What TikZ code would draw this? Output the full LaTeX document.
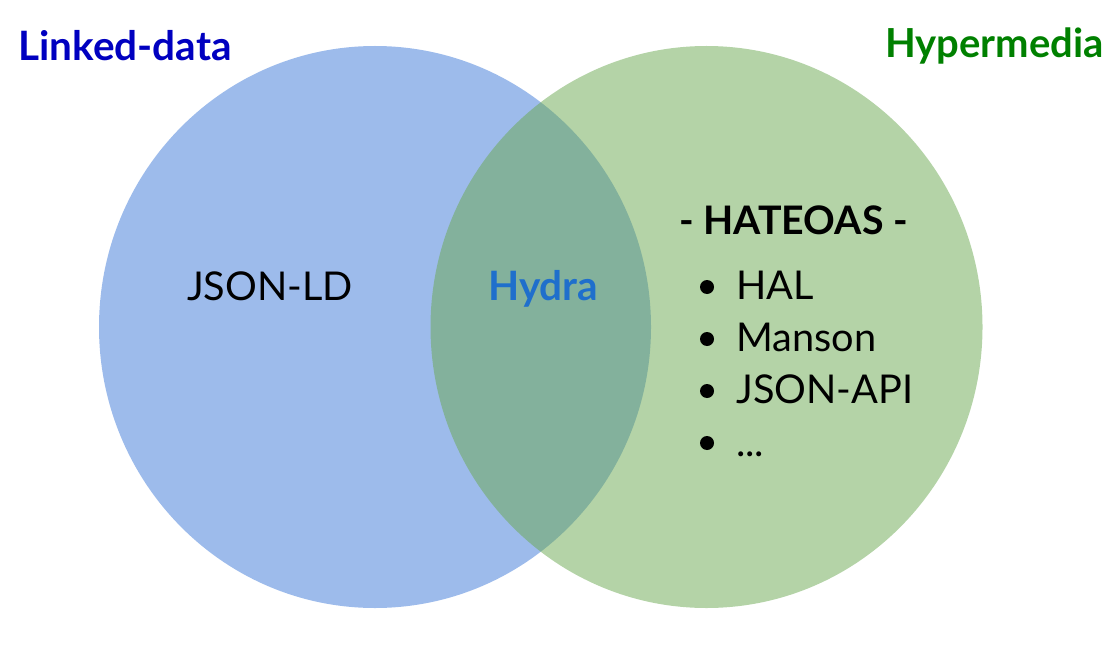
\documentclass[tikz,border=0pt]{standalone}
\usepackage{fontspec}
\setmainfont{Lato}
\definecolor{ldblue}{RGB}{0,0,192}
\definecolor{hmgreen}{RGB}{0,128,0}
\definecolor{hydrablue}{RGB}{31,111,204}
\definecolor{cblue}{RGB}{60,120,216}
\definecolor{cgreen}{RGB}{106,168,79}
\begin{document}
\begin{tikzpicture}[x=1pt,y=-1pt,
  title/.style={font=\fontsize{40.5}{46}\selectfont\bfseries, anchor=base west, inner sep=0pt},
  body/.style={font=\fontsize{39.7}{46}\selectfont, anchor=base west, inner sep=0pt},
  dot/.style={circle, fill=black, inner sep=0pt, minimum size=14pt}]
\useasboundingbox (0,0) rectangle (1115,647);
\fill[cblue, fill opacity=0.5] (375,327) ellipse [x radius=276, y radius=281];
\fill[cgreen, fill opacity=0.5] (706.5,327) ellipse [x radius=276, y radius=281];
\node[title, text=ldblue] (ld) at (18,61) {Linked-data};
\node[title, text=hmgreen, font=\fontsize{40}{46}\selectfont\bfseries] (hm) at (885,58) {Hypermedia};
\node[body] (jsonld) at (187,300) {JSON-LD};
\node[title, text=hydrablue, font=\fontsize{40.5}{46}\selectfont\bfseries] (hydra) at (488,300) {Hydra};
\node[title, font=\fontsize{39.3}{46}\selectfont\bfseries] (hat) at (679,234) {- HATEOAS -};
\node[body] (hal) at (736,299) {HAL};
\node[body] (manson) at (736,351) {Manson};
\node[body] (jsonapi) at (736,403) {JSON-API};
\node[body] (etc) at (736,456) {...};
\node[dot] (d1) at (707,287) {};
\node[dot] (d2) at (707,339) {};
\node[dot] (d3) at (707,391) {};
\node[dot] (d4) at (707,443) {};
\end{tikzpicture}
\end{document}
